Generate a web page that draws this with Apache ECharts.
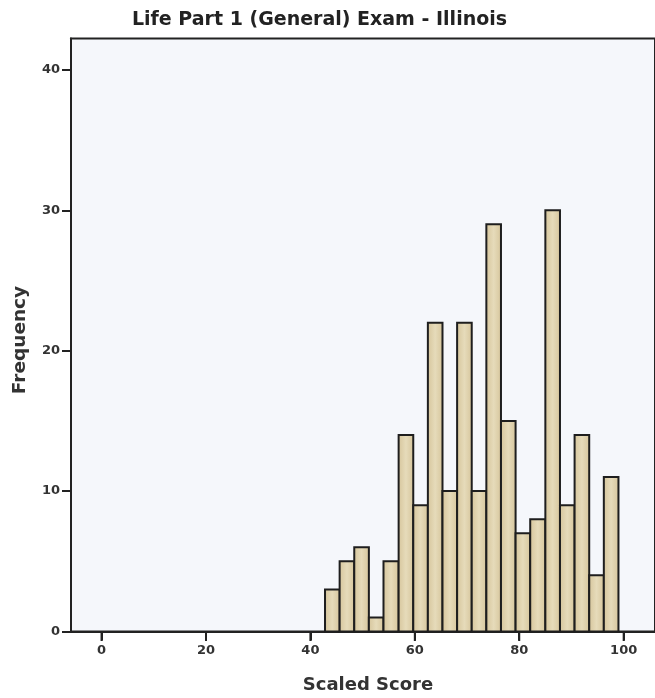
<!DOCTYPE html>
<html>
<head>
<meta charset="utf-8">
<script src="https://cdn.jsdelivr.net/npm/echarts@6/dist/echarts.min.js"></script>
<style>
html,body{margin:0;padding:0;background:#ffffff;}
#chart{width:655px;height:698px;}
</style>
</head>
<body>
<div id="chart"></div>
<script>
// Histogram bin edges (Scaled Score) and frequencies
var binEdges = [42.8, 45.6, 48.4, 51.2, 54.0, 56.9, 59.7, 62.5, 65.3, 68.1, 70.9,
                73.7, 76.5, 79.3, 82.1, 85.0, 87.8, 90.6, 93.4, 96.2, 99.0];
var frequencies = [3, 5, 6, 1, 5, 14, 9, 22, 10, 22, 10, 29, 15, 7, 8, 30, 9, 14, 4, 11];
var xTickLabels = [0, 20, 40, 60, 80, 100];
var yTickLabels = [0, 10, 20, 30, 40];
var chartTitle = 'Life Part 1 (General) Exam - Illinois';
var xTitle = 'Scaled Score';
var yTitle = 'Frequency';

var histData = frequencies.map(function (f, i) {
  return [binEdges[i], binEdges[i + 1], f];
});
var xTickData = xTickLabels.map(function (v) { return [v, 1]; });

var FONT = '"DejaVu Sans", "Liberation Sans", Arial, sans-serif';
var chart = echarts.init(document.getElementById('chart'), null, {renderer: 'canvas'});

var barFill = new echarts.graphic.LinearGradient(0, 0, 1, 0, [
  {offset: 0, color: '#d5c49a'},
  {offset: 0.5, color: '#e6dbba'},
  {offset: 1, color: '#d5c49a'}
]);

var X_MIN = -5.85, X_MAX = 106;

chart.setOption({
  animation: false,
  backgroundColor: '#ffffff',
  grid: [{
    left: 71, top: 38.5, width: 593, height: 593,
    show: true, backgroundColor: '#f5f7fb',
    borderColor: '#222222', borderWidth: 2
  }, {
    // thin strip under the x-axis that carries the x tick marks
    left: 71, top: 632, width: 593, height: 9, show: false
  }],
  xAxis: [{
    type: 'value', min: X_MIN, max: X_MAX, gridIndex: 0,
    axisLine: {show: true, onZero: false, lineStyle: {color: '#222222', width: 2}},
    axisTick: {show: true, customValues: xTickLabels, length: 9, inside: false,
               lineStyle: {color: '#222222', width: 2}},
    axisLabel: {customValues: xTickLabels, margin: 13, color: '#333333',
                fontFamily: FONT, fontWeight: 'bold', fontSize: 13},
    splitLine: {show: false}
  }, {
    type: 'value', min: X_MIN, max: X_MAX, gridIndex: 1, show: false
  }],
  yAxis: [{
    type: 'value', min: 0, max: 42.24, gridIndex: 0,
    axisLine: {show: true, onZero: false, lineStyle: {color: '#222222', width: 2}},
    axisTick: {show: true, customValues: yTickLabels, length: 9, inside: false,
               lineStyle: {color: '#222222', width: 2}},
    axisLabel: {customValues: yTickLabels, margin: 11, color: '#333333',
                fontFamily: FONT, fontWeight: 'bold', fontSize: 13},
    splitLine: {show: false}
  }, {
    type: 'value', min: 0, max: 1, gridIndex: 1, show: false
  }],
  series: [{
    type: 'custom',
    xAxisIndex: 0, yAxisIndex: 0,
    data: histData,
    encode: {x: [0, 1], y: 2},
    renderItem: function (params, api) {
      var p0 = api.coord([api.value(0), api.value(2)]);
      var p1 = api.coord([api.value(1), 0]);
      return {
        type: 'rect',
        shape: {x: p0[0], y: p0[1], width: p1[0] - p0[0], height: p1[1] - p0[1]},
        style: {fill: barFill, stroke: '#1e1e1e', lineWidth: 2}
      };
    }
  }, {
    type: 'custom',
    xAxisIndex: 1, yAxisIndex: 1,
    data: xTickData,
    encode: {x: 0, y: 1},
    silent: true,
    z: 10,
    renderItem: function (params, api) {
      var top = api.coord([api.value(0), 1]);
      var bottom = api.coord([api.value(0), 0]);
      return {
        type: 'rect',
        shape: {x: top[0] - 1, y: top[1], width: 2, height: bottom[1] - top[1]},
        style: {fill: '#222222'}
      };
    }
  }],
  graphic: [
    {id: 'title', type: 'text', x: 319.5, y: 20.5,
     style: {text: chartTitle, font: 'bold 19px ' + FONT, fill: '#222222',
             align: 'center', verticalAlign: 'middle'}},
    {id: 'xname', type: 'text', x: 368, y: 685,
     style: {text: xTitle, font: 'bold 18px ' + FONT, fill: '#333333',
             align: 'center', verticalAlign: 'middle'}},
    {id: 'yname', type: 'text', x: 20, y: 340, rotation: Math.PI / 2,
     style: {text: yTitle, font: 'bold 18.5px ' + FONT, fill: '#333333',
             align: 'center', verticalAlign: 'middle'}}
  ]
});
</script>
</body>
</html>
